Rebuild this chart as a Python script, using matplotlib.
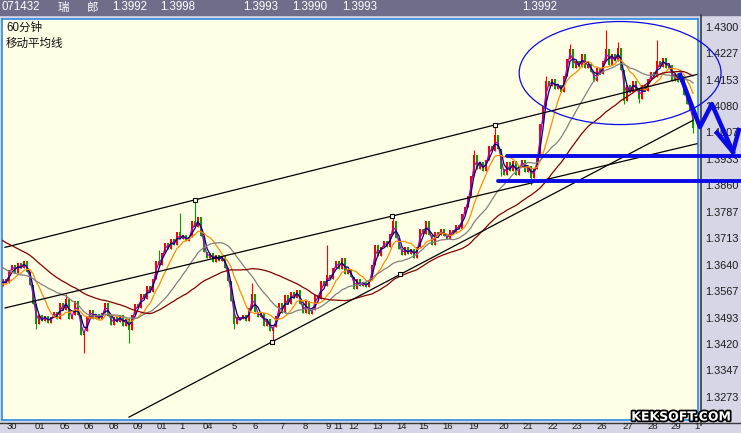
import matplotlib
matplotlib.use('Agg')
import matplotlib.pyplot as plt
import matplotlib.patheffects as pe
from matplotlib.patches import Ellipse, Rectangle
from matplotlib.lines import Line2D
import numpy as np
import pandas as pd

plt.rcParams['font.family'] = ['Liberation Sans', 'Noto Sans CJK SC', 'DejaVu Sans']

W, H = 741, 433

# closes before the visible window, only used to warm up the moving averages
pre_closes = [
    1.3790, 1.3805, 1.3785, 1.3810, 1.3798, 1.3820, 1.3800, 1.3812, 1.3790, 1.3805,
    1.3795, 1.3780, 1.3792, 1.3770, 1.3785, 1.3760, 1.3772, 1.3750, 1.3735, 1.3745,
    1.3720, 1.3700, 1.3712, 1.3690, 1.3680, 1.3695, 1.3670, 1.3655, 1.3668, 1.3640,
    1.3625, 1.3610, 1.3590, 1.3600, 1.3575, 1.3590, 1.3570, 1.3585, 1.3595, 1.3580,
]

# visible bars (one per 3 px), open = previous close
closes = [
    1.3600, 1.3590, 1.3625, 1.3640, 1.3618, 1.3645, 1.3630, 1.3650, 1.3620, 1.3585,
    1.3530, 1.3475, 1.3500, 1.3485, 1.3498, 1.3478, 1.3495, 1.3510, 1.3490, 1.3535,
    1.3515, 1.3545, 1.3490, 1.3500, 1.3538, 1.3500, 1.3445, 1.3455, 1.3495, 1.3515,
    1.3490, 1.3502, 1.3488, 1.3505, 1.3535, 1.3498, 1.3472, 1.3495, 1.3482, 1.3500,
    1.3470, 1.3488, 1.3460, 1.3500, 1.3530, 1.3520, 1.3560, 1.3545, 1.3580, 1.3565,
    1.3600, 1.3650, 1.3640, 1.3672, 1.3700, 1.3685, 1.3712, 1.3695, 1.3730, 1.3710,
    1.3722, 1.3705, 1.3718, 1.3760, 1.3745, 1.3772, 1.3720, 1.3675, 1.3660, 1.3672,
    1.3648, 1.3668, 1.3650, 1.3665, 1.3630, 1.3595, 1.3540, 1.3475, 1.3495, 1.3488,
    1.3500, 1.3485, 1.3520, 1.3560, 1.3510, 1.3495, 1.3505, 1.3470, 1.3490, 1.3455,
    1.3468, 1.3498, 1.3535, 1.3505, 1.3555, 1.3530, 1.3565, 1.3548, 1.3570, 1.3530,
    1.3505, 1.3540, 1.3502, 1.3515, 1.3555, 1.3545, 1.3595, 1.3580, 1.3612, 1.3600,
    1.3630, 1.3650, 1.3628, 1.3658, 1.3615, 1.3628, 1.3605, 1.3572, 1.3600, 1.3580,
    1.3592, 1.3578, 1.3598, 1.3640, 1.3695, 1.3665, 1.3690, 1.3705, 1.3690, 1.3725,
    1.3760, 1.3715, 1.3685, 1.3668, 1.3688, 1.3670, 1.3685, 1.3660, 1.3690, 1.3740,
    1.3725, 1.3760, 1.3722, 1.3695, 1.3730, 1.3722, 1.3738, 1.3720, 1.3712, 1.3735,
    1.3728, 1.3750, 1.3740, 1.3780, 1.3800, 1.3830, 1.3885, 1.3945, 1.3905, 1.3925,
    1.3900, 1.3930, 1.3970, 1.3955, 1.4000, 1.3960, 1.3905, 1.3890, 1.3925, 1.3900,
    1.3928, 1.3888, 1.3915, 1.3932, 1.3898, 1.3915, 1.3880, 1.3905, 1.3945, 1.4030,
    1.4080, 1.4150, 1.4135, 1.4155, 1.4128, 1.4140, 1.4118, 1.4165, 1.4210, 1.4238,
    1.4185, 1.4205, 1.4190, 1.4225, 1.4185, 1.4198, 1.4175, 1.4150, 1.4185, 1.4170,
    1.4205, 1.4240, 1.4195, 1.4225, 1.4205, 1.4242, 1.4180, 1.4095, 1.4140, 1.4120,
    1.4150, 1.4128, 1.4100, 1.4140, 1.4122, 1.4155, 1.4175, 1.4160, 1.4205, 1.4190,
    1.4215, 1.4185, 1.4195, 1.4150, 1.4170, 1.4148, 1.4165, 1.4112, 1.4085, 1.4070, 1.4020,
]

# long wicks (bar index -> price)
spike_highs = {21: 1.3560, 52: 1.3682, 59: 1.3784, 64: 1.3820, 83: 1.3590, 108: 1.3695,
               130: 1.3778, 157: 1.3958, 164: 1.4028, 181: 1.4165, 189: 1.4252,
               201: 1.4292, 205: 1.4258, 218: 1.4264}
spike_lows = {11: 1.3462, 27: 1.3395, 42: 1.3423, 77: 1.3462, 90: 1.3426, 166: 1.3885,
              176: 1.3860, 207: 1.4085, 212: 1.4090, 230: 1.4005}

ma_windows = [2, 3, 8, 20, 40]
ma_colors = ['#b000b0', '#000080', '#ff8c00', '#808080', '#800000']

price_ticks = [1.4300, 1.4227, 1.4153, 1.4080, 1.4007, 1.3933, 1.3860, 1.3787,
               1.3713, 1.3640, 1.3567, 1.3493, 1.3420, 1.3347, 1.3273]
day_pos = [2.8, 12.3, 20.5, 28.7, 37, 45, 52.8, 59.5, 68.3, 77.2, 84, 93.2, 100.8, 108.3,
           111.7, 116.7, 125, 132.7, 140.3, 148.2, 157, 167, 175, 183.2, 191.3, 199.7,
           208.3, 216.5, 224.3, 231.2]
day_labels = ['30', '01', '05', '06', '08', '09', '01', '1', '04', '5', '6', '7', '8', '9',
              '11', '12', '13', '14', '15', '16', '19', '20', '21', '22', '23', '26', '27',
              '28', '29', '1']

# trend lines: two anchors (bar, price) and the bar range drawn
trend_anchors = [((64, 1.3820), (164, 1.4028)),
                 ((0.67, 1.3520), (129.7, 1.3775)),
                 ((42, 1.3217), (89.7, 1.3426))]
trend_spans = [(0.67, 231.3), (0.67, 231.3), (42, 230)]
pivot_x = [64, 164, 129.7, 89.7, 132.3]
pivot_y = [1.3820, 1.4028, 1.3775, 1.3426, 1.3613]

# hand drawn blue marks
support_start = [168, 165]
support_price = [1.3941, 1.3871]
ellipse_center = (205.7, 1.4172)
ellipse_size = (67.3, 0.0286)
arrow_x = [225.7, 232.3, 236.3, 243.3]
arrow_y = [1.4167, 1.4022, 1.4086, 1.3953]
arrow_head_x = [238.0, 243.3, 245.3]
arrow_head_y = [1.4006, 1.3953, 1.4014]

header_items = ['071432', '瑞', '郎', '1.3992', '1.3998', '1.3993', '1.3990', '1.3993', '1.3992']
header_px = [2, 58, 86, 112, 160, 243, 292, 342, 522]

fig = plt.figure(figsize=(W / 100, H / 100), dpi=100, facecolor='#d6d6e6')
ax = fig.add_axes([2 / W, 1 - 420 / H, 696 / W, 401 / H], facecolor='#ffffe6')
ax.set_zorder(1)

c = np.array(pre_closes + closes)
n0 = len(pre_closes)
bars = np.arange(len(c)) - n0
o = np.r_[c[0], c[:-1]]
hi = np.maximum(o, c)
lo = np.minimum(o, c)
for k, v in spike_highs.items():
    hi[k + n0] = v
for k, v in spike_lows.items():
    lo[k + n0] = v
col = np.where(c >= o, '#ff0000', '#00a000')
ax.vlines(bars, lo, hi, colors=col, lw=0.8, zorder=2)
ax.bar(bars, c - o, bottom=o, width=0.75, color=col, lw=0, zorder=2)

s = pd.Series(c)
for w, mc in zip(ma_windows, ma_colors):
    ax.plot(bars, s.rolling(w).mean(), color=mc, lw=0.9, zorder=3)

for (p1, p2), (xa, xb) in zip(trend_anchors, trend_spans):
    slope = (p2[1] - p1[1]) / (p2[0] - p1[0])
    xs = np.array([xa, xb])
    ax.plot(xs, p1[1] + slope * (xs - p1[0]), color='black', lw=0.9, zorder=4)
ax.plot(pivot_x, pivot_y, 's', ms=3.2, mfc='#ffffe6', mec='black', mew=0.8, ls='none', zorder=5)

x_left, x_right = -1 / 3, 695 / 3
edge = x_right + (W - 698) / 3
blue = '#0a0ae6'
for x0, p in zip(support_start, support_price):
    ax.plot([x0, edge], [p, p], color=blue, lw=2.8, solid_capstyle='round', clip_on=False, zorder=6)
ax.add_patch(Ellipse(ellipse_center, ellipse_size[0], ellipse_size[1], fill=False, ec=blue,
                     lw=0.9, clip_on=False, zorder=6))
ax.plot(arrow_x, arrow_y, color=blue, lw=3.2, clip_on=False, zorder=6)
ax.plot(arrow_head_x, arrow_head_y, color=blue, lw=3.2, clip_on=False, zorder=6)

ax.set_xlim(x_left, x_right)
ax.set_ylim(1.3209, 1.4322)
ax.yaxis.tick_right()
ax.set_yticks(price_ticks, [f'{v:.4f}' for v in price_ticks])
ax.set_xticks(day_pos, day_labels)
ax.tick_params(length=0, labelcolor='#1a1a1a')
ax.tick_params(axis='y', pad=5, labelsize=7.8)
ax.tick_params(axis='x', pad=1.5, labelsize=6.8)
for sp in ax.spines.values():
    sp.set_color('#2b8ae6')
    sp.set_linewidth(1.2)

# window frame
fig.add_artist(Rectangle((0, 1 - 15 / H), 1, 15 / H, transform=fig.transFigure,
                         color='#6e6e8a', zorder=0))
fig.add_artist(Line2D([700.5 / W] * 2, [1 - 15 / H, 1 - 425 / H], transform=fig.transFigure,
                      color='#3a3a3a', lw=1.2, zorder=0))
fig.add_artist(Line2D([0, 1], [1 - 423 / H] * 2, transform=fig.transFigure,
                      color='#3a3a3a', lw=1.0, zorder=0))

for t, px in zip(header_items, header_px):
    fig.text(px / W, 1 - 7.5 / H, t, color='white', fontsize=8.3, va='center')

fig.text(6 / W, 1 - 27.5 / H, '60分钟', fontsize=8.3, va='center', color='#111111', zorder=5)
fig.text(6 / W, 1 - 43.5 / H, '移动平均线', fontsize=8.3, va='center', color='#111111', zorder=5)

fig.text(681 / W, 1 - 417 / H, 'KEKSOFT.COM', family='DejaVu Sans', fontweight='bold',
         fontsize=9, color='white', ha='center', va='center', zorder=6,
         path_effects=[pe.withStroke(linewidth=2.5, foreground='black')])

fig.savefig('out.png', dpi=100, facecolor=fig.get_facecolor())
